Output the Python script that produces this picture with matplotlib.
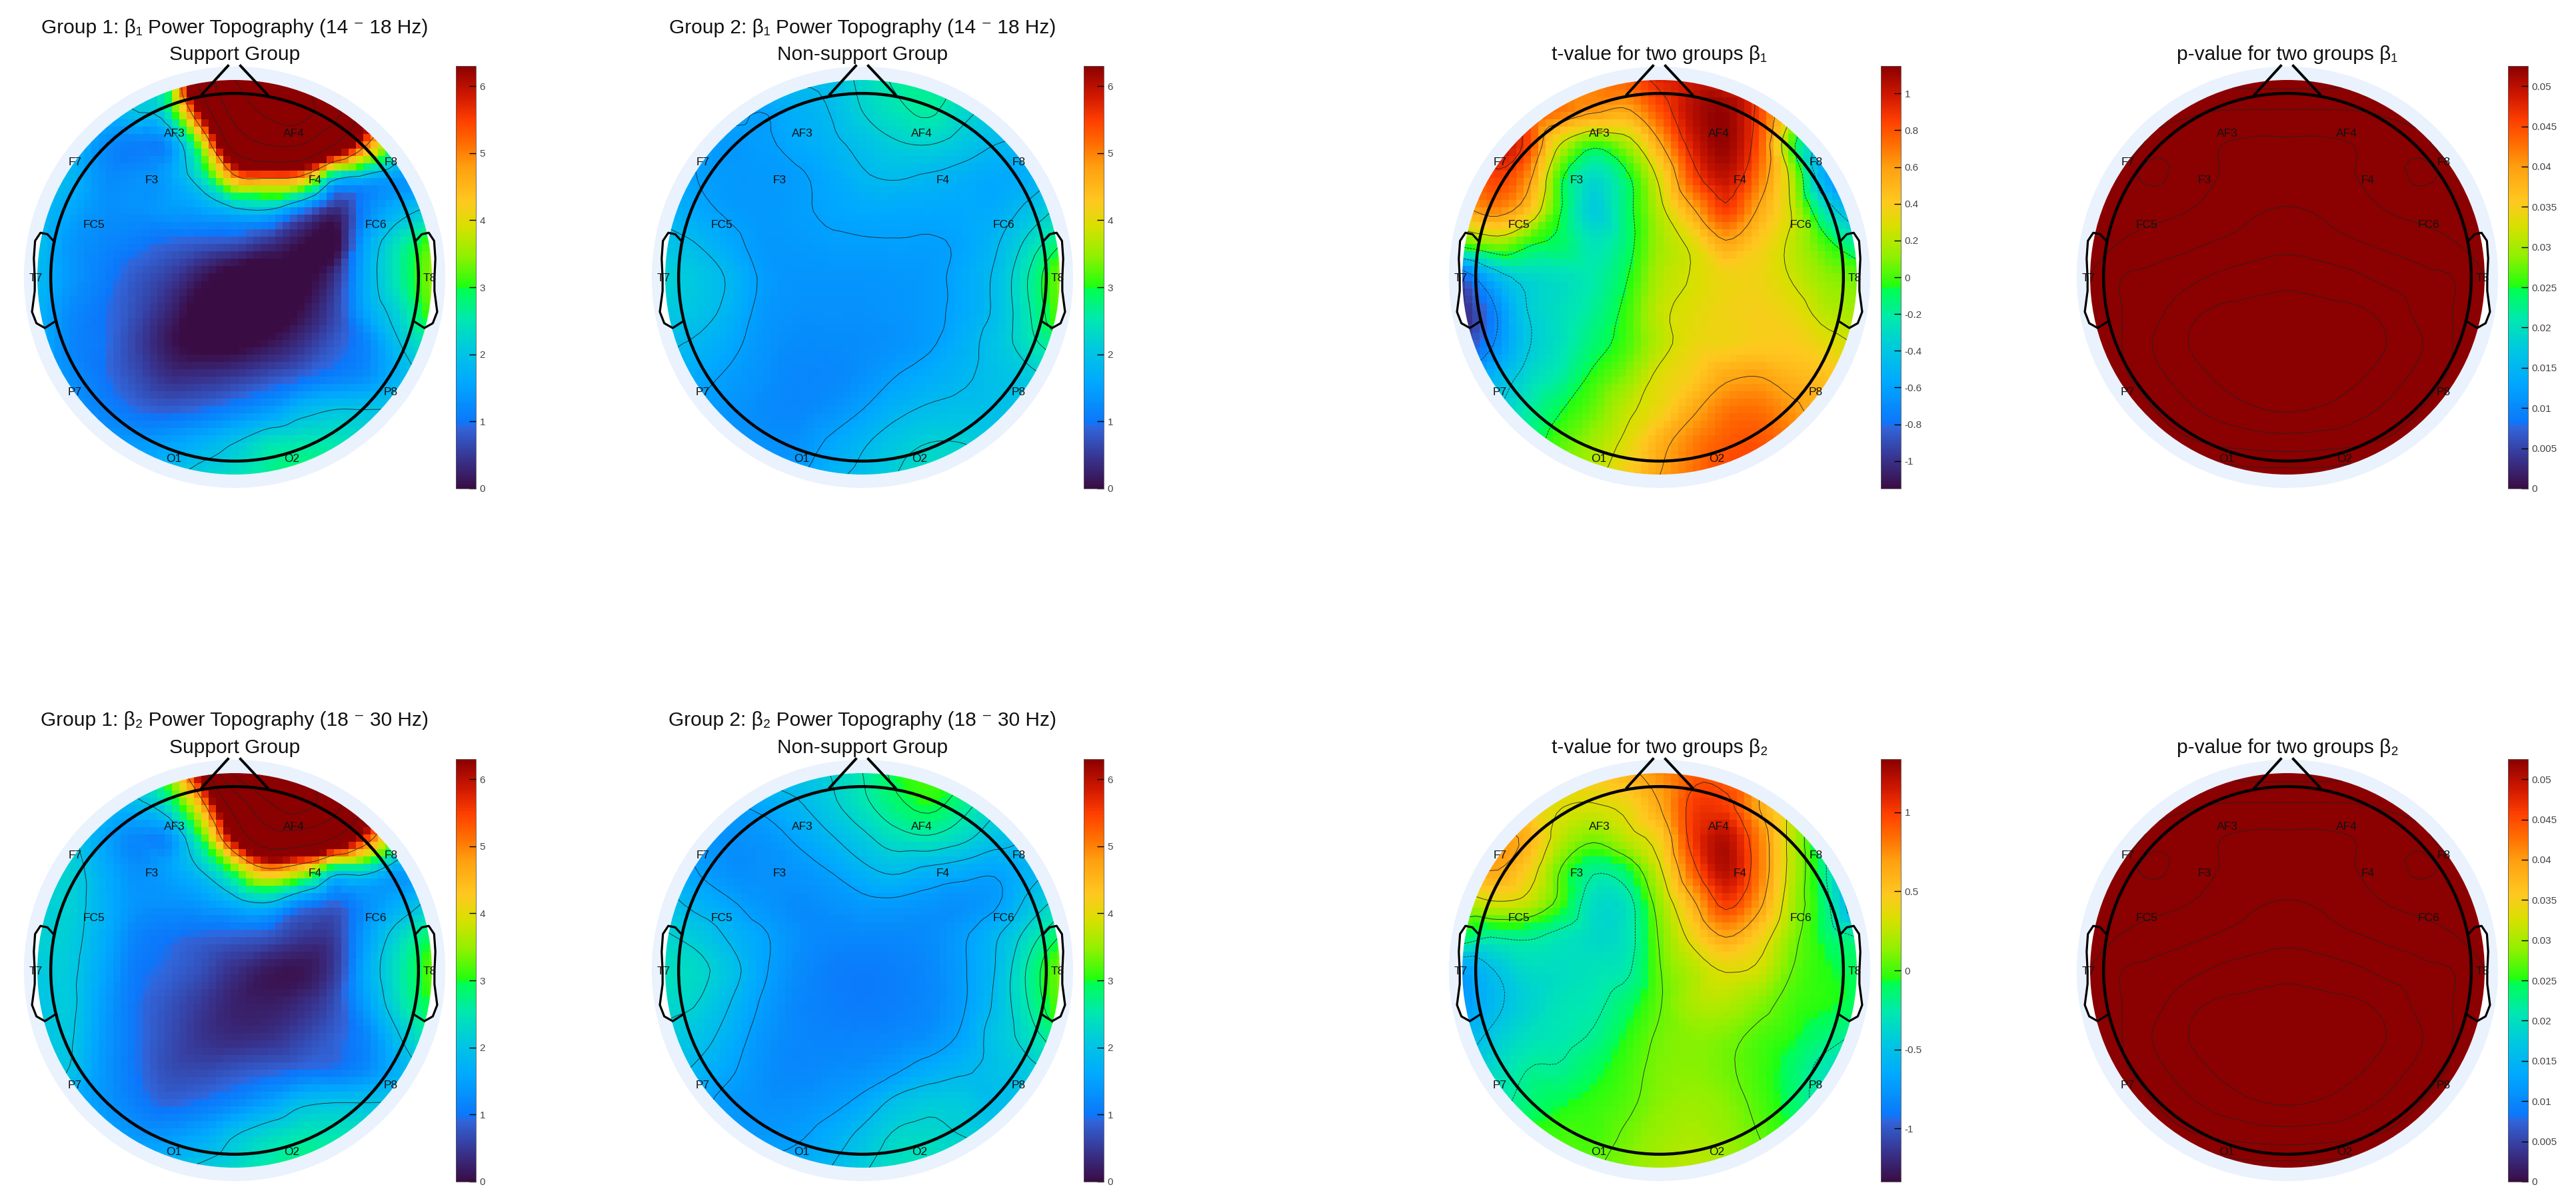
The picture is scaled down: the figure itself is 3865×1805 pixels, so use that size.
import matplotlib

matplotlib.use('Agg')
import matplotlib.pyplot as plt
import matplotlib.tri as tri
import numpy as np
from matplotlib.cm import ScalarMappable
from matplotlib.colors import LinearSegmentedColormap, Normalize
from matplotlib.patches import Circle

plt.rcParams['font.family'] = ['Liberation Sans', 'DejaVu Sans']

W, H = 3865, 1805

channels = ['AF3', 'AF4', 'F7', 'F8', 'F3', 'F4', 'FC5', 'FC6', 'T7', 'T8', 'P7', 'P8', 'O1', 'O2']
channel_x = [-.163, .161, -.434, .425, -.226, .218, -.383, .385, -.541, .53, -.434, .425, -.165, .155]
channel_y = [.39, .39, .312, .312, .264, .264, .143, .143, -.002, -.002, -.313, -.313, -.494, -.494]

# values read at a 13 x 13 raster over the scalp, top row first, left column first
grid_pos = [-.54, -.45, -.36, -.27, -.18, -.09, 0, .09, .18, .27, .36, .45, .54]

power_g1_b1 = [
    [2, 2, 2, 2, 3, 9, 14, 16, 15, 10, 6, 4, 3],
    [2, 2, 1.8, 2.0, 2.6, 6.5, 12, 14.5, 15, 12, 7, 4, 3],
    [2, 1.9, 1.3, 1.1, 1.3, 3.6, 9, 11, 11, 8, 5, 2.6, 2.2],
    [1.9, 1.8, 1.3, 1.3, 1.5, 2.4, 4.7, 5.0, 4.7, 2.2, 1.7, 1.4, 1.8],
    [1.9, 1.6, 1.3, 1.3, 1.4, 1.5, 1.8, 1.9, 1.1, .35, 1.2, 1.8, 2.2],
    [2.0, 1.4, 1.2, 1.05, .9, .8, .7, .4, .05, -.1, 1.6, 2.5, 3.3],
    [1.9, 1.4, 1.1, .8, .55, .15, -.2, -.3, -.1, .4, 1.7, 2.6, 3.5],
    [1.8, 1.25, 1.0, .7, .3, -.15, -.4, -.3, .05, .6, 1.6, 2.3, 3.3],
    [1.8, 1.2, 1.0, .6, .15, -.1, -.1, .1, .4, .8, 1.2, 2.0, 2.6],
    [1.7, 1.3, 1.0, .7, .4, .4, .5, .7, .9, 1.1, 1.3, 1.8, 2.2],
    [1.7, 1.4, 1.15, .95, .85, .95, 1.15, 1.4, 1.8, 2, 2.0, 2, 2],
    [1.7, 1.5, 1.4, 1.4, 1.5, 1.7, 2.0, 2.4, 2.5, 2.5, 2.3, 2, 2],
    [1.8, 1.7, 1.7, 1.7, 1.9, 2.2, 2.4, 2.7, 2.9, 2.9, 2.6, 2.3, 2.2],
]
power_g2_b1 = [
    [1.9, 1.9, 1.9, 1.9, 1.9, 1.95, 2.3, 2.6, 2.6, 2.5, 2.3, 2.2, 2.2],
    [1.8, 1.7, 1.6, 1.5, 1.7, 1.85, 2.2, 2.45, 2.6, 2.3, 2.1, 2, 2],
    [1.7, 1.5, 1.4, 1.45, 1.6, 1.75, 1.95, 2.15, 2.2, 2.05, 1.85, 1.8, 1.8],
    [1.7, 1.5, 1.4, 1.4, 1.45, 1.6, 1.8, 1.87, 1.8, 1.7, 1.6, 1.7, 1.85],
    [1.75, 1.6, 1.45, 1.4, 1.45, 1.55, 1.6, 1.6, 1.6, 1.6, 1.65, 1.95, 2.3],
    [2.0, 1.85, 1.6, 1.4, 1.4, 1.45, 1.47, 1.48, 1.47, 1.55, 1.8, 2.3, 2.9],
    [2.2, 2.05, 1.8, 1.45, 1.35, 1.35, 1.35, 1.38, 1.42, 1.6, 1.9, 2.55, 3.4],
    [2.1, 2, 1.75, 1.4, 1.3, 1.3, 1.3, 1.35, 1.42, 1.6, 1.9, 2.5, 3.3],
    [1.9, 1.8, 1.6, 1.35, 1.25, 1.25, 1.27, 1.32, 1.45, 1.7, 2, 2.4, 2.8],
    [1.8, 1.6, 1.45, 1.3, 1.2, 1.2, 1.3, 1.5, 1.65, 1.8, 1.95, 2.1, 2.3],
    [1.7, 1.5, 1.35, 1.25, 1.2, 1.3, 1.5, 1.75, 1.9, 1.95, 1.95, 2, 2],
    [1.7, 1.5, 1.35, 1.3, 1.3, 1.55, 1.8, 2.05, 2.2, 2.2, 2.05, 2, 2],
    [1.7, 1.6, 1.5, 1.4, 1.45, 1.75, 1.95, 2.2, 2.4, 2.4, 2.3, 2.2, 2.2],
]
power_g1_b2 = [
    [2, 2, 2, 2.5, 3.5, 7, 15, 18, 17, 11, 6, 4, 3],
    [2, 2.1, 1.9, 1.85, 2.5, 4.6, 9, 13.5, 15, 12, 7.5, 4, 3],
    [2, 2.1, 1.6, 1.2, 1.3, 3.0, 6.5, 9.5, 9.5, 8, 5.5, 3, 2.4],
    [2, 2.2, 1.7, 1.3, 1.5, 2.0, 3.2, 4.7, 4.0, 2.4, 2.2, 1.5, 2],
    [2.1, 2.2, 1.75, 1.35, 1.3, 1.4, 1.7, 1.9, 1.2, .9, 1.3, 1.7, 2.2],
    [2.2, 2.15, 1.7, 1.15, 1, .9, .85, .75, .5, .55, 1.5, 2.3, 3],
    [2.1, 2.1, 1.6, 1.05, .9, .7, .4, .15, .1, .5, 1.65, 2.5, 3.3],
    [2.0, 2.1, 1.5, 1.0, .75, .5, .25, .2, .35, .7, 1.5, 2.4, 3.1],
    [2.0, 2.05, 1.45, 1.0, .7, .45, .35, .4, .6, .85, 1.2, 2.0, 2.7],
    [1.9, 2.0, 1.4, 1.0, .7, .65, .75, .85, .95, 1.0, 1.25, 1.75, 2.1],
    [1.8, 1.7, 1.4, 1.1, .9, 1, 1.2, 1.5, 1.9, 2, 2, 2, 2],
    [1.8, 1.7, 1.6, 1.4, 1.4, 1.6, 2, 2.3, 2.5, 2.5, 2.4, 2, 2],
    [1.8, 1.8, 1.8, 1.8, 1.9, 2.1, 2.3, 2.6, 2.8, 2.8, 2.7, 2.4, 2.2],
]
power_g2_b2 = [
    [2.0, 2.0, 2.0, 2.0, 2.0, 2.2, 2.55, 3.0, 3.2, 3, 2.7, 2.4, 2.3],
    [1.9, 1.7, 1.5, 1.6, 1.8, 2.1, 2.45, 2.8, 3.0, 2.7, 2.3, 2.1, 2],
    [1.8, 1.4, 1.3, 1.35, 1.55, 1.8, 2.1, 2.4, 2.5, 2.3, 2.0, 1.85, 1.8],
    [1.8, 1.5, 1.3, 1.3, 1.35, 1.5, 1.75, 1.9, 1.75, 1.65, 1.55, 1.75, 1.8],
    [2.0, 1.75, 1.55, 1.35, 1.25, 1.3, 1.4, 1.42, 1.35, 1.3, 1.45, 1.95, 2.35],
    [2.25, 2.1, 1.8, 1.55, 1.3, 1.2, 1.2, 1.2, 1.25, 1.45, 1.8, 2.35, 2.95],
    [2.4, 2.3, 2.0, 1.55, 1.25, 1.1, 1.05, 1.1, 1.2, 1.45, 1.85, 2.6, 3.4],
    [2.3, 2.2, 1.85, 1.45, 1.2, 1.1, 1.05, 1.1, 1.2, 1.45, 1.9, 2.55, 3.3],
    [2.1, 2, 1.7, 1.35, 1.2, 1.15, 1.15, 1.2, 1.3, 1.55, 2, 2.35, 2.8],
    [1.95, 1.8, 1.55, 1.3, 1.2, 1.25, 1.3, 1.45, 1.65, 1.8, 1.95, 2.1, 2.3],
    [1.9, 1.6, 1.4, 1.3, 1.3, 1.4, 1.6, 1.95, 2.1, 2.1, 1.9, 1.95, 2],
    [1.9, 1.6, 1.45, 1.4, 1.45, 1.65, 1.95, 2.25, 2.3, 2.2, 2.1, 2, 2],
    [1.9, 1.7, 1.6, 1.55, 1.65, 1.85, 2.15, 2.4, 2.5, 2.5, 2.4, 2.2, 2.2],
]
t_b1 = [
    [.55, .55, .6, .62, .68, .78, .95, 1.0, .95, .85, .5, .2, .1],
    [.55, .8, .8, .7, .6, .55, .8, 1.05, 1.12, .85, .3, -.1, -.3],
    [.6, 1.0, .85, .25, -.02, .15, .55, .97, 1.12, .8, .0, -.5, -.6],
    [.6, .85, .65, -.02, -.3, -.1, .3, .82, 1.02, .7, .2, -.55, -.7],
    [.5, .65, .45, -.05, -.37, -.12, .2, .55, .85, .55, .25, -.25, -.55],
    [.0, .12, -.03, -.1, -.25, -.12, .15, .3, .55, .4, .22, .0, -.2],
    [-.85, -.5, -.32, -.28, -.22, -.07, .18, .27, .35, .35, .25, .12, .05],
    [-1.05, -.72, -.38, -.28, -.18, -.02, .22, .3, .36, .38, .33, .2, .15],
    [-.95, -.7, -.4, -.27, -.12, .0, .2, .33, .36, .4, .4, .32, .25],
    [-.7, -.5, -.32, -.2, -.03, .1, .3, .4, .55, .58, .5, .45, .4],
    [-.5, -.4, -.22, -.07, .05, .22, .35, .55, .7, .72, .62, .5, .45],
    [-.45, -.3, -.15, .02, .15, .3, .52, .68, .78, .8, .7, .6, .5],
    [-.4, -.25, -.1, .05, .2, .4, .58, .72, .85, .85, .75, .65, .55],
]
t_b2 = [
    [.4, .4, .4, .45, .5, .6, .75, .9, .85, .75, .5, .2, .1],
    [.5, .5, .45, .35, .33, .4, .65, 1.0, 1.0, .65, .3, .0, -.2],
    [.6, .7, .6, .25, .1, .25, .45, 1.02, 1.22, .8, .25, -.22, -.6],
    [.6, .65, .45, .05, -.2, -.1, .3, .88, 1.22, .82, .25, -.2, -.7],
    [.2, .3, .25, .0, -.33, -.3, .15, .6, 1.0, .7, .2, -.15, -.7],
    [-.1, -.22, -.2, -.28, -.35, -.3, .08, .4, .65, .45, .12, -.1, -.22],
    [-.7, -.5, -.35, -.33, -.3, -.25, .05, .22, .35, .3, .06, -.05, -.1],
    [-.75, -.55, -.4, -.3, -.26, -.13, .05, .2, .22, .12, .0, -.05, -.1],
    [-.6, -.45, -.32, -.27, -.2, -.05, .08, .12, .1, .02, -.05, -.15, -.25],
    [-.5, -.35, -.22, -.2, -.1, .0, .1, .12, .08, .0, -.12, -.28, -.4],
    [-.4, -.3, -.15, -.08, -.03, .03, .12, .16, .12, .02, -.12, -.3, -.4],
    [-.4, -.25, -.05, .0, .0, .08, .16, .2, .15, .06, -.05, -.2, -.3],
    [-.4, -.1, .0, .02, .05, .12, .2, .25, .2, .1, .0, -.1, -.2],
]
# p maps are left-right symmetric, rows hold midline then out to the right edge
p_half = [
    [.2, .2, .22, .25, .27, .28, .28],
    [.36, .36, .355, .34, .33, .3, .3],
    [.47, .47, .45, .38, .36, .33, .3],
    [.49, .48, .455, .4, .335, .36, .33],
    [.56, .54, .49, .45, .42, .38, .34],
    [.62, .6, .565, .53, .5, .46, .38],
    [.72, .7, .67, .62, .58, .55, .45],
    [.79, .78, .765, .72, .62, .55, .44],
    [.85, .83, .8, .75, .66, .55, .45],
    [.82, .81, .77, .7, .62, .53, .44],
    [.76, .74, .69, .63, .55, .46, .38],
    [.6, .59, .57, .53, .48, .42, .36],
    [.4, .4, .38, .36, .33, .3, .28],
]

titles = [
    ['Group 1: β₁ Power Topography (14 ⁻ 18 Hz)', 'Support Group'],
    ['Group 2: β₁ Power Topography (14 ⁻ 18 Hz)', 'Non-support Group'],
    ['t-value for two groups β₁'],
    ['p-value for two groups β₁'],
    ['Group 1: β₂ Power Topography (18 ⁻ 30 Hz)', 'Support Group'],
    ['Group 2: β₂ Power Topography (18 ⁻ 30 Hz)', 'Non-support Group'],
    ['t-value for two groups β₂'],
    ['p-value for two groups β₂'],
]
p_levels = [.25, .35, .45, .55, .65, .75]
power_levels = [2, 5, 8, 11, 14]
power2_levels = [1.5, 1.85, 2.2, 2.55, 2.9]
t1_levels = [-.7, -.38, -.06, .26, .58, .9]
t2_levels = [-.5, -.22, .06, .34, .65, .95]
power_ticks = [0, 1, 2, 3, 4, 5, 6]
t1_ticks = [-1, -.8, -.6, -.4, -.2, 0, .2, .4, .6, .8, 1]
t2_ticks = [-1, -.5, 0, .5, 1]
p_ticks = [0, .005, .01, .015, .02, .025, .03, .035, .04, .045, .05]

cmap = LinearSegmentedColormap.from_list('topo', [
    (0, '#3a0c44'), (.07, '#38338e'), (.145, '#3066dc'), (.155, '#0c76fa'),
    (.25, '#00a8ff'), (.33, '#00c8e0'), (.40, '#00e8b0'), (.472, '#00ff50'),
    (.478, '#20ff10'), (.55, '#90f000'), (.62, '#d8e000'), (.68, '#ffc820'),
    (.76, '#ffa010'), (.82, '#ff6a00'), (.87, '#ff4000'), (.93, '#d01800'),
    (1, '#8b0000')], N=512)

ear_x = np.array([-.4927, -.509, -.528, -.5426, -.546, -.5435, -.5435, -.551, -.539, -.516, -.488])
ear_y = np.array([.099, .117, .121, .099, .051, -.002, -.037, -.094, -.125, -.138, -.120])

fig = plt.figure(figsize=(W / 100, H / 100), dpi=100)


def px_axes(left, top, width, height):
    return fig.add_axes([left / W, 1 - (top + height) / H, width / W, height / H])


def topo(cx, cy, values, levels, vmin, vmax):
    ax = px_axes(cx - 331, cy - 331, 662, 662)
    ax.set_xlim(-.6, .6)
    ax.set_ylim(-.6, .6)
    ax.axis('off')

    X, Y = np.meshgrid(grid_pos, grid_pos[::-1])
    triang = tri.Triangulation(X.ravel(), Y.ravel())
    interp = tri.CubicTriInterpolator(triang, np.array(values, dtype=float).ravel(), kind='geom')
    xi = np.linspace(-.5395, .5395, 55)
    Xi, Yi = np.meshgrid(xi, xi)
    zi = interp(Xi, Yi)

    ax.add_patch(Circle((0, 0), .573, fc='#e9f2fd', ec='none', zorder=0))
    ax.fill(ear_x, ear_y, 'white', zorder=1)
    ax.fill(-ear_x, ear_y, 'white', zorder=1)

    disk = Circle((0, 0), .536, transform=ax.transData)
    mesh = ax.pcolormesh(Xi, Yi, zi, cmap=cmap, vmin=vmin, vmax=vmax, shading='nearest', zorder=2)
    mesh.set_clip_path(disk)
    lines = ax.contour(Xi, Yi, zi, levels=levels, colors='#222222', linewidths=.6, zorder=3)
    lines.set_clip_path(disk)

    ax.add_patch(Circle((0, 0), .5, fc='none', ec='black', lw=3.2, zorder=4))
    ax.plot([-.089, -.018], [.497, .575], color='black', lw=2.8, zorder=4)
    ax.plot([.089, .016], [.497, .575], color='black', lw=2.8, zorder=4)
    ax.plot(ear_x, ear_y, color='black', lw=2.3, zorder=4)
    ax.plot(-ear_x, ear_y, color='black', lw=2.3, zorder=4)
    for name, x, y in zip(channels, channel_x, channel_y):
        ax.text(x, y, name, fontsize=12.5, ha='center', va='center', color='#111111', zorder=5)


def bar(left, top, vmin, vmax, ticks):
    cax = px_axes(left, top, 30, 634)
    cb = fig.colorbar(ScalarMappable(Normalize(vmin, vmax), cmap), cax=cax, ticks=ticks)
    cb.ax.set_yticklabels(['{:g}'.format(t) for t in ticks])
    cb.ax.tick_params(direction='in', length=7, width=1, labelsize=11, labelcolor='#444444', pad=4)
    cb.outline.set_linewidth(.6)
    cb.outline.set_edgecolor('#555555')


panel_x = [352, 1294, 2490, 3432]
panel_y = [416, 1456]
bar_x = [684, 1626, 2822, 3763]
bar_y = [99, 1139]
title_y = [[42, 82], [1081, 1122]]

p_full = [r[:0:-1] + r for r in p_half]
fields = [
    (power_g1_b1, power_levels, 0, 6.3, power_ticks),
    (power_g2_b1, power2_levels, 0, 6.3, power_ticks),
    (t_b1, t1_levels, -1.15, 1.15, t1_ticks),
    (p_full, p_levels, 0, .0525, p_ticks),
    (power_g1_b2, power_levels, 0, 6.3, power_ticks),
    (power_g2_b2, power2_levels, 0, 6.3, power_ticks),
    (t_b2, t2_levels, -1.337, 1.337, t2_ticks),
    (p_full, p_levels, 0, .0525, p_ticks),
]

for i, (values, levels, vmin, vmax, ticks) in enumerate(fields):
    row, col = i // 4, i % 4
    topo(panel_x[col], panel_y[row], values, levels, vmin, vmax)
    bar(bar_x[col], bar_y[row], vmin, vmax, ticks)
    lines = titles[i]
    for j, line in enumerate(lines):
        y = title_y[row][j + 2 - len(lines)]
        fig.text(panel_x[col] / W, 1 - y / H, line, fontsize=21.5, ha='center', va='center', color='#111111')

fig.savefig('out.png', dpi=100)
